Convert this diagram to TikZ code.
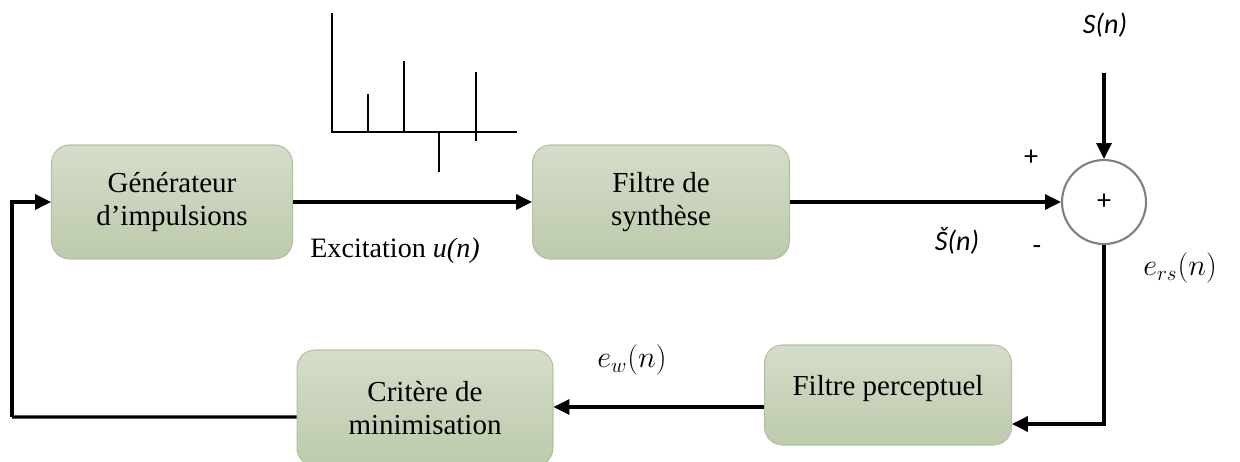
\documentclass[tikz,border=0pt]{standalone}
\usepackage{fontspec}
\setmainfont{Liberation Serif}
\newfontfamily\calib{Carlito}
\usepackage{tikz}
\usetikzlibrary{arrows.meta,calc,shapes,positioning}

\definecolor{boxtop}{HTML}{D4DDC9}
\definecolor{boxbot}{HTML}{BDCAAC}
\definecolor{boxline}{HTML}{B3C1A3}

\tikzset{
  bloc/.style={rectangle, rounded corners=0.36cm, draw=boxline, line width=0.6pt,
    top color=boxtop, bottom color=boxbot, align=center,
    font=\fontsize{16.5}{19}\selectfont},
  fleche/.style={line width=1.8pt, -{Triangle[length=9pt,width=8.5pt]}},
  trait/.style={line width=1.8pt},
  lab/.style={font=\calib\itshape\fontsize{16}{19}\selectfont}
}

\begin{document}
\begin{tikzpicture}[x=0.02cm,y=-0.02cm]
      \useasboundingbox (0,0) rectangle (1240,461);
      \clip (0,0) rectangle (1240,461);
      % blocs
      \node[bloc, minimum width=4.82cm, minimum height=2.28cm] (gen) at (172,202) {G\'en\'erateur\\d'impulsions};
      \node[bloc, minimum width=5.14cm, minimum height=2.28cm] (synth) at (661,202) {Filtre de\\synth\`ese};
      \node[bloc, minimum width=4.94cm, minimum height=2cm] (perc) at (888,395) {Filtre perceptuel\\[-8pt]};
      \node[bloc, minimum width=5.12cm, minimum height=2.32cm] (crit) at (425,408) {Crit\`ere de\\minimisation};
      \node[circle, draw=gray, line width=1.2pt, minimum size=1.68cm, font=\calib\fontsize{16}{19}\selectfont] (somme) at (1104,202) {+};
      % excitation
      \begin{scope}[line width=1pt]
        \draw (332,13) -- (332,132) -- (517,132);
        \foreach \x/\h in {368/94, 404/61, 439/172} {
          \draw (\x,132) -- (\x,\h);
        }
        \draw (476,141) -- (476,72);
      \end{scope}
      % liaisons
      \coordinate (sn) at (1104,73);
      \draw[fleche] (sn) -- (somme.north);
      \draw[fleche] (gen.east) -- (synth.west);
      \draw[fleche] (synth.east) -- (somme.west);
      \coordinate (pin) at ([yshift=-0.58cm]perc.east);
      \draw[fleche] (somme.south) |- (pin);
      \coordinate (pout) at ([yshift=-0.24cm]perc.west);
      \draw[fleche] (pout) -- (pout -| crit.east);
      \coordinate (cout) at ([yshift=-0.18cm]crit.west);
      \coordinate (coin) at (12,417);
      \draw[trait] (cout) -- (coin);
      \draw[fleche] (coin) |- (gen.west);
      % textes
      \node[lab] (ls) at (1105,25) {S(n)};
      \node[lab] (lsh) at (957,241) {Š(n)};
      \node[font=\calib\fontsize{16}{19}\selectfont] (plus) at (1031,158) {+};
      \node[font=\calib\fontsize{16}{19}\selectfont] (moins) at (1037,250) {-};
      \node[font=\fontsize{16}{19}\selectfont] (lexc) at (395,251) {Excitation \textit{u(n)}};
      \node[font=\fontsize{17}{19}\selectfont] (lers) at (1180,268) {$e_{rs}(n)$};
      \node[font=\fontsize{17}{19}\selectfont] (lew) at (632,360) {$e_{w}(n)$};
\end{tikzpicture}
\end{document}
